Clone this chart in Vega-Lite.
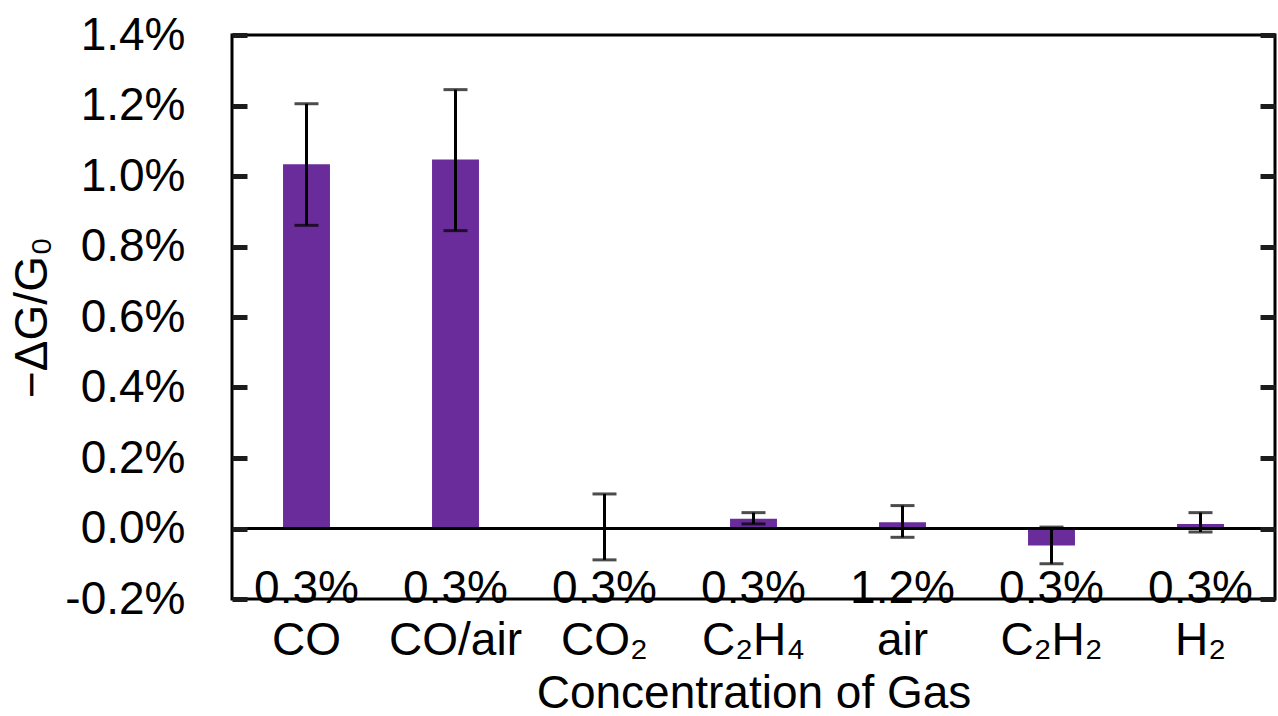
{
  "$schema": "https://vega.github.io/schema/vega-lite/v6.json",
  "width": 1043,
  "height": 564,
  "autosize": {"type": "none"},
  "padding": {"left": 232, "top": 35, "right": 3, "bottom": 117},
  "background": "white",
  "config": {
    "font": "Liberation Sans",
    "view": {"stroke": "black", "strokeWidth": 3, "fill": null},
    "axis": {"domain": false, "grid": false, "labelColor": "black", "titleColor": "black", "labelFont": "Liberation Sans", "titleFont": "Liberation Sans", "titleFontWeight": "normal"}
  },
  "data": {
    "values": [
      {"cat": "0.3%|CO", "val": 1.033, "lo": 0.86, "hi": 1.205},
      {"cat": "0.3%|CO/air", "val": 1.047, "lo": 0.845, "hi": 1.245},
      {"cat": "0.3%|CO₂", "val": 0.004, "lo": -0.089, "hi": 0.098},
      {"cat": "0.3%|C₂H₄", "val": 0.028, "lo": 0.013, "hi": 0.045},
      {"cat": "1.2%|air", "val": 0.018, "lo": -0.025, "hi": 0.065},
      {"cat": "0.3%|C₂H₂", "val": -0.048, "lo": -0.1, "hi": 0.004},
      {"cat": "0.3%|H₂", "val": 0.013, "lo": -0.01, "hi": 0.045}
    ]
  },
  "resolve": {"axis": {"y": "independent"}},
  "layer": [
    {
      "mark": {"type": "bar", "color": "#6a2c9a"},
      "encoding": {
        "x": {
          "field": "cat", "type": "nominal", "sort": null,
          "scale": {"paddingInner": 0.685, "paddingOuter": 0.3425},
          "axis": {
            "title": "Concentration of Gas", "titleFontSize": 46, "titleBaseline": "alphabetic", "titleY": 108,
            "labelExpr": "split(datum.label, '|')", "labelFontSize": 46, "labelLineHeight": 52,
            "labelBaseline": "top", "labelPadding": -33, "labelAngle": 0, "ticks": false, "labelOverlap": false
          }
        },
        "y": {
          "field": "val", "type": "quantitative",
          "scale": {"domain": [-0.2, 1.4], "nice": false, "zero": false},
          "axis": {
            "values": [-0.2, 0, 0.2, 0.4, 0.6, 0.8, 1.0, 1.2, 1.4],
            "labelExpr": "(datum.value < -0.0001 ? '-' : '') + format(abs(datum.value), '.1f') + '%'",
            "labelFontSize": 46, "labelPadding": 62, "ticks": true, "tickSize": -15, "tickWidth": 5, "tickColor": "#1c1c1c", "zindex": 2,
            "title": "−ΔG/G₀", "titleFontSize": 46, "titleAngle": 270, "titleX": -186, "titleY": 282,
            "titleAlign": "center", "titleBaseline": "alphabetic"
          }
        }
      }
    },
    {
      "mark": {"type": "rule", "color": "black", "strokeWidth": 2.5},
      "encoding": {
        "y": {"datum": 0, "type": "quantitative", "scale": {"domain": [-0.2, 1.4], "nice": false, "zero": false}, "axis": null}
      }
    },
    {
      "mark": {"type": "errorbar", "color": "black", "ticks": {"size": 24, "thickness": 3}, "rule": {"strokeWidth": 3}},
      "encoding": {
        "x": {"field": "cat", "type": "nominal", "sort": null},
        "y": {
          "field": "lo", "type": "quantitative",
          "scale": {"domain": [-0.2, 1.4], "nice": false, "zero": false},
          "axis": {"orient": "right", "values": [-0.2, 0, 0.2, 0.4, 0.6, 0.8, 1.0, 1.2, 1.4], "labels": false, "title": null, "ticks": true, "tickSize": -15, "tickWidth": 5, "tickColor": "#1c1c1c", "zindex": 2}
        },
        "y2": {"field": "hi"}
      }
    }
  ]
}
